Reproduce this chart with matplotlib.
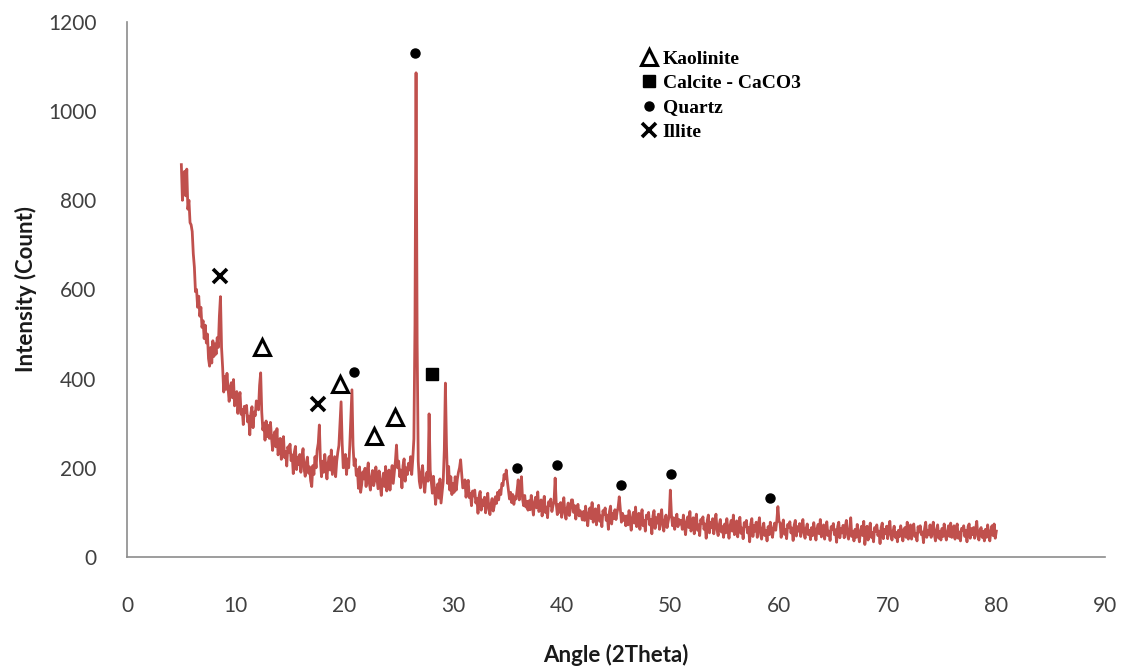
import numpy as np
import matplotlib
matplotlib.use("Agg")
import matplotlib.pyplot as plt

# ---- Data ----
angle_start = 5.0
angle_step = 0.1
intensity = [
    880, 800, 855, 865, 810, 870, 780, 800, 750, 745,   # 5
    730, 680, 650, 595, 600, 560, 585, 540, 560, 515,   # 6
    530, 490, 520, 480, 500, 445, 428, 470, 435, 485,   # 7
    450, 478, 455, 492, 470, 540, 584, 470, 425, 370,   # 8
    405, 376, 412, 378, 349, 380, 391, 357, 398, 339,   # 9
    350, 371, 322, 353, 369, 320, 331, 297, 338, 324,   # 10
    340, 303, 316, 274, 322, 337, 290, 325, 317, 350,   # 11
    345, 330, 385, 413, 325, 285, 300, 262, 305, 270,   # 12
    295, 266, 302, 268, 239, 270, 281, 247, 288, 229,   # 13
    243, 266, 219, 252, 270, 223, 236, 204, 247, 235,   # 14
    253, 216, 229, 187, 235, 248, 196, 224, 207, 230,   # 15
    190, 224, 243, 197, 181, 210, 224, 188, 202, 171,   # 16
    158, 205, 185, 225, 200, 240, 255, 296, 215, 180,   # 17
    215, 190, 230, 200, 175, 210, 225, 195, 240, 185,   # 18
    205, 225, 180, 215, 235, 250, 300, 348, 255, 200,   # 19
    202, 230, 185, 220, 200, 250, 310, 375, 250, 205,   # 20
    220, 183, 196, 154, 202, 145, 163, 191, 175, 199,   # 21
    158, 192, 211, 165, 150, 178, 194, 160, 172, 202,   # 22
    178, 153, 193, 163, 138, 173, 188, 158, 203, 148,   # 23
    170, 195, 150, 185, 205, 165, 190, 215, 251, 200,   # 24
    215, 180, 195, 155, 205, 220, 170, 200, 185, 210,   # 25
    195, 225, 185, 220, 265, 520, 1086, 480, 215, 170,  # 26
    155, 190, 205, 165, 145, 175, 190, 170, 321, 195,   # 27
    170, 143, 181, 149, 118, 151, 164, 132, 175, 121,   # 28
    145, 170, 240, 390, 250, 165, 203, 150, 180, 140,   # 29
    165, 145, 180, 150, 175, 190, 200, 218, 185, 155,   # 30
    156, 173, 134, 159, 172, 133, 142, 115, 148, 137,   # 31
    150, 121, 131, 98, 136, 147, 105, 128, 115, 134,    # 32
    99, 127, 143, 107, 95, 119, 131, 103, 115, 135,     # 33
    120, 145, 128, 150, 140, 165, 160, 185, 175, 195,   # 34
    170, 150, 130, 145, 122, 140, 118, 135, 130, 150,   # 35
    173, 128, 150, 180, 130, 115, 138, 112, 125, 105,   # 36
    126, 106, 138, 114, 94, 122, 134, 110, 146, 102,    # 37
    108, 128, 92, 120, 136, 100, 112, 88, 124, 116,     # 38
    130, 102, 115, 125, 177, 120, 95, 118, 100, 122,    # 39
    89, 117, 133, 97, 85, 109, 121, 93, 105, 128,       # 40
    128, 100, 115, 85, 108, 118, 92, 104, 96, 83,       # 41
    102, 82, 114, 90, 70, 98, 110, 86, 122, 78,         # 42
    88, 108, 72, 100, 116, 80, 92, 68, 104, 96,         # 43
    110, 82, 94, 62, 102, 114, 74, 98, 86, 106,         # 44
    84, 100, 112, 135, 105, 78, 98, 82, 92, 70,         # 45
    92, 72, 104, 80, 60, 88, 100, 76, 112, 68,          # 46
    78, 98, 62, 90, 106, 70, 82, 58, 94, 86,            # 47
    100, 72, 84, 52, 92, 104, 64, 88, 76, 96,           # 48
    62, 90, 106, 70, 58, 82, 94, 66, 80, 92,            # 49
    150, 95, 70, 88, 62, 80, 96, 68, 84, 74,            # 50
    82, 62, 94, 70, 50, 78, 90, 66, 102, 58,            # 51
    68, 88, 52, 80, 96, 60, 72, 48, 84, 76,             # 52
    90, 62, 74, 42, 82, 94, 54, 78, 66, 86,             # 53
    52, 80, 96, 60, 48, 72, 84, 56, 68, 44,             # 54
    74, 54, 86, 62, 42, 70, 82, 58, 94, 50,             # 55
    61, 81, 45, 73, 89, 53, 65, 41, 77, 69,             # 56
    82, 54, 66, 34, 74, 86, 46, 70, 58, 78,             # 57
    44, 72, 88, 52, 40, 64, 76, 48, 60, 36,             # 58
    68, 50, 78, 58, 44, 64, 76, 60, 82, 113,            # 59
    80, 76, 44, 69, 83, 51, 62, 41, 73, 66,             # 60
    79, 54, 65, 37, 72, 82, 47, 68, 58, 75,             # 61
    46, 70, 84, 53, 42, 64, 74, 50, 60, 39,             # 62
    66, 48, 77, 56, 38, 63, 73, 52, 84, 45,             # 63
    54, 72, 40, 65, 79, 48, 58, 37, 68, 62,             # 64
    75, 50, 61, 33, 68, 78, 43, 64, 54, 71,             # 65
    43, 68, 82, 50, 40, 61, 88, 46, 57, 36,             # 66
    62, 44, 73, 52, 34, 58, 69, 48, 80, 28,             # 67
    52, 69, 38, 62, 76, 44, 55, 34, 66, 58,             # 68
    72, 48, 58, 30, 66, 76, 41, 62, 52, 69,             # 69
    41, 66, 80, 48, 38, 58, 69, 44, 55, 34,             # 70
    60, 46, 70, 54, 36, 62, 66, 44, 78, 40,             # 71
    55, 72, 40, 60, 74, 46, 52, 36, 68, 56,             # 72
    70, 50, 56, 32, 64, 78, 44, 60, 50, 72,             # 73
    44, 64, 78, 50, 36, 60, 72, 42, 57, 38,             # 74
    64, 46, 74, 50, 38, 56, 70, 46, 76, 44,             # 75
    50, 70, 40, 64, 74, 42, 56, 36, 64, 60,             # 76
    70, 46, 60, 34, 68, 74, 42, 64, 50, 66,             # 77
    42, 64, 80, 46, 38, 60, 66, 44, 58, 36,             # 78
    62, 44, 72, 52, 36, 58, 70, 48, 74, 42,             # 79
    58,                                                 # 80
]
two_theta = np.round(angle_start + angle_step * np.arange(len(intensity)), 2)

# Phase markers (angle, intensity)
kaolinite_x = [12.4, 19.6, 22.7, 24.7]
kaolinite_y = [471, 388, 271, 314]
calcite_x = [28.1]
calcite_y = [410]
quartz_x = [26.5, 20.9, 35.9, 39.6, 45.5, 50.1, 59.2]
quartz_y = [1130, 415, 200, 206, 161, 186, 132]
illite_x = [8.6, 17.6]
illite_y = [630, 343]

legend_labels = ["Kaolinite", "Calcite - CaCO3", "Quartz", "Illite"]

x_ticks = list(range(0, 91, 10))
y_ticks = list(range(0, 1201, 200))

# ---- Plot ----
fig = plt.figure(figsize=(11.31, 6.66), dpi=100)
ax = fig.add_axes([0.1123, 0.1637, 0.8647, 0.8033])

ax.plot(two_theta, intensity, color="#C0504D", lw=2.0)

mk = dict(color="black", linestyle="none", zorder=5)
h_k, = ax.plot(kaolinite_x, kaolinite_y, marker="^", markersize=11,
               markerfacecolor="white", markeredgecolor="black",
               markeredgewidth=2.2, **mk)
h_c, = ax.plot(calcite_x, calcite_y, marker="s", markersize=8, **mk)
h_q, = ax.plot(quartz_x, quartz_y, marker="o", markersize=6.5, **mk)
h_i, = ax.plot(illite_x, illite_y, marker="x", markersize=10,
               markeredgewidth=2.6, **mk)

leg = ax.legend([h_k, h_c, h_q, h_i], legend_labels,
                loc="upper left", bbox_to_anchor=(0.518, 0.962),
                frameon=False, handlelength=0.8, handletextpad=0.3,
                labelspacing=0.35, borderaxespad=0,
                prop=dict(family="Liberation Serif", weight="bold", size=14))

ax.set_xlim(0, 90)
ax.set_ylim(0, 1200)
ax.set_xticks(x_ticks)
ax.set_yticks(y_ticks)
ax.tick_params(axis="both", length=0, labelsize=15, labelcolor="#404040")
ax.tick_params(axis="x", pad=28)
ax.tick_params(axis="y", pad=22)
for lab in ax.get_xticklabels() + ax.get_yticklabels():
    lab.set_family("Lato")

for s in ["top", "right"]:
    ax.spines[s].set_visible(False)
for s in ["left", "bottom"]:
    ax.spines[s].set_color("#8c8c8c")
    ax.spines[s].set_linewidth(1.2)

ax.set_xlabel("Angle (2Theta)", fontsize=16, fontweight="bold",
              family="Lato", color="#1a1a1a", labelpad=20)
ax.set_ylabel("Intensity (Count)", fontsize=16, fontweight="bold",
              family="Lato", color="#1a1a1a", labelpad=8)

fig.savefig("out.png", dpi=100, facecolor="white")
